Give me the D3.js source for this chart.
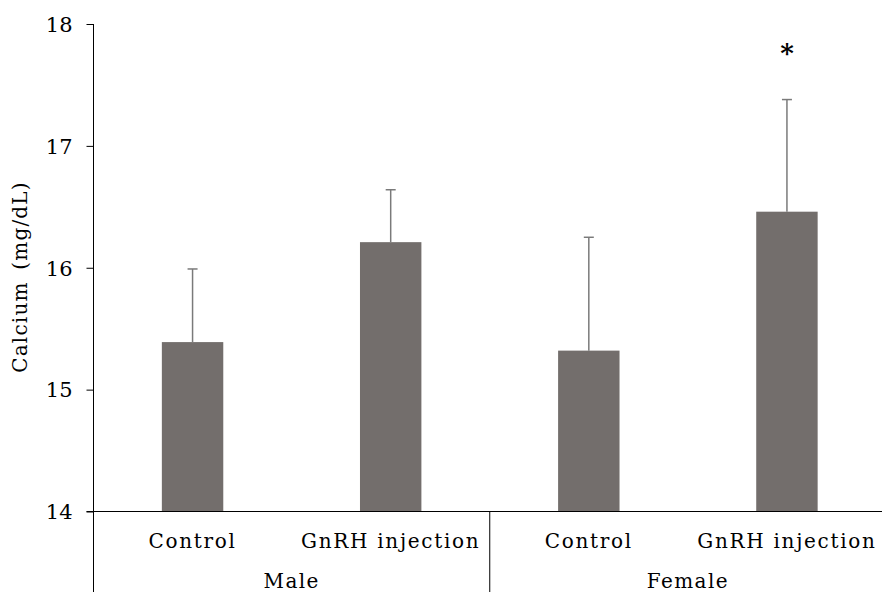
<!DOCTYPE html>
<html>
<head>
<meta charset="utf-8">
<script src="https://cdn.jsdelivr.net/npm/d3@7"></script>
<style>
  body { margin: 0; background: #fff; }
  text { font-family: "DejaVu Serif", serif; fill: #000; }
</style>
</head>
<body>
<script>
// values
var groups = ["Male", "Male", "Female", "Female"];
var categories = ["Control", "GnRH injection", "Control", "GnRH injection"];
var means = [15.39, 16.21, 15.32, 16.46];
var sds = [0.60, 0.43, 0.93, 0.92];
var signif = ["", "", "", "*"];
var yTicks = [14, 15, 16, 17, 18];

var width = 882, height = 592;
var svg = d3.select("body").append("svg")
    .attr("width", width)
    .attr("height", height);

var x0 = 93.5, plotRight = 886;
var keys = d3.range(categories.length);

var x = d3.scaleBand()
    .domain(keys)
    .range([x0, plotRight])
    .paddingInner(0.69)
    .paddingOuter(0.345);

var y = d3.scaleLinear()
    .domain([14, 18])
    .range([511.5, 24]);

// bars
svg.selectAll("rect.bar")
    .data(keys)
    .enter()
    .append("rect")
    .attr("class", "bar")
    .attr("x", function (i) { return x(i); })
    .attr("y", function (i) { return y(means[i]); })
    .attr("width", x.bandwidth())
    .attr("height", function (i) { return y(14) - y(means[i]); })
    .style("fill", "#736e6c");

// error bars (upper only)
var err = svg.selectAll("g.err")
    .data(keys)
    .enter()
    .append("g")
    .attr("class", "err")
    .attr("stroke", "#7a7a7a")
    .attr("stroke-width", 1.5);

err.append("line")
    .attr("x1", function (i) { return x(i) + x.bandwidth() / 2; })
    .attr("x2", function (i) { return x(i) + x.bandwidth() / 2; })
    .attr("y1", function (i) { return y(means[i]); })
    .attr("y2", function (i) { return y(means[i] + sds[i]); });

err.append("line")
    .attr("x1", function (i) { return x(i) + x.bandwidth() / 2 - 5; })
    .attr("x2", function (i) { return x(i) + x.bandwidth() / 2 + 5; })
    .attr("y1", function (i) { return y(means[i] + sds[i]); })
    .attr("y2", function (i) { return y(means[i] + sds[i]); });

// significance marks
svg.selectAll("text.sig")
    .data(keys.filter(function (i) { return signif[i]; }))
    .enter()
    .append("text")
    .attr("class", "sig")
    .attr("x", function (i) { return x(i) + x.bandwidth() / 2; })
    .attr("y", function (i) { return y(means[i] + sds[i]) - 38; })
    .attr("text-anchor", "middle")
    .style("font-size", "26px")
    .style("font-weight", "bold")
    .text(function (i) { return signif[i]; });

// y axis
var yAxis = svg.append("g")
    .attr("transform", "translate(" + x0 + ",0)")
    .call(d3.axisLeft(y).tickValues(yTicks).tickFormat(d3.format("d"))
        .tickSize(7).tickPadding(14).tickSizeOuter(0));
yAxis.select(".domain").remove();
yAxis.selectAll("line").attr("stroke", "#000");
yAxis.selectAll("text")
    .style("font-size", "21px")
    .style("font-family", "DejaVu Serif, serif")
    .attr("dy", "0.35em");

svg.append("line")
    .attr("x1", x0).attr("x2", x0)
    .attr("y1", y(18)).attr("y2", height)
    .attr("stroke", "#000");

// x axis line
svg.append("line")
    .attr("x1", x0 - 7).attr("x2", width)
    .attr("y1", y(14)).attr("y2", y(14))
    .attr("stroke", "#000");

// category labels
svg.selectAll("text.cat")
    .data(keys)
    .enter()
    .append("text")
    .attr("class", "cat")
    .attr("x", function (i) { return x(i) + x.bandwidth() / 2; })
    .attr("y", 548)
    .attr("text-anchor", "middle")
    .style("font-size", "20px")
    .style("letter-spacing", "1.7px")
    .text(function (i) { return categories[i]; });

// group labels and separator
var groupNames = Array.from(new Set(groups));
var step = x.step();
groupNames.forEach(function (g, gi) {
    var idx = keys.filter(function (i) { return groups[i] === g; });
    var left = x0 + step * idx[0];
    var right = x0 + step * (idx[idx.length - 1] + 1);
    svg.append("text")
        .attr("x", (left + right) / 2)
        .attr("y", 588)
        .attr("text-anchor", "middle")
        .style("font-size", "20px")
        .style("letter-spacing", "1.4px")
        .text(g);
    if (gi > 0) {
        svg.append("line")
            .attr("x1", left).attr("x2", left)
            .attr("y1", y(14)).attr("y2", height)
            .attr("stroke", "#000");
    }
});

// y title
svg.append("text")
    .attr("transform", "translate(27,277) rotate(-90)")
    .attr("text-anchor", "middle")
    .style("font-size", "20px")
    .style("letter-spacing", "1.2px")
    .style("word-spacing", "4px")
    .text("Calcium (mg/dL)");
</script>
</body>
</html>
